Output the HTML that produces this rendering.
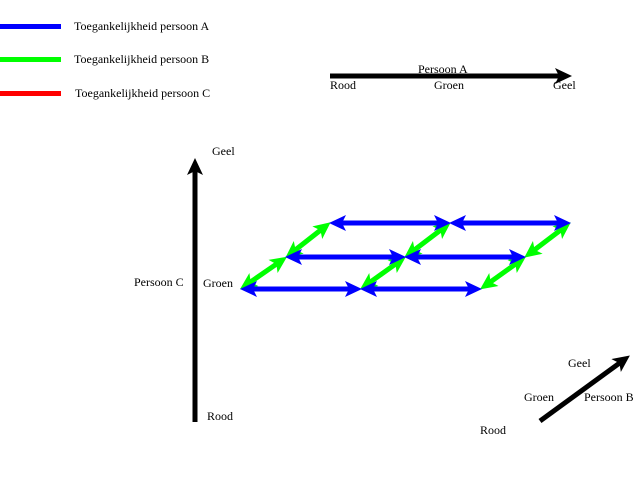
<!DOCTYPE html>
<html><head><meta charset="utf-8"><style>
html,body{margin:0;padding:0;background:#fff;}
svg{display:block;}
text{font-family:"Liberation Serif",serif;font-size:12px;fill:#000;}
</style></head><body>
<svg width="640" height="480" viewBox="0 0 640 480" xmlns="http://www.w3.org/2000/svg">
<defs>
<marker id="bE" markerUnits="userSpaceOnUse" markerWidth="18" markerHeight="16" refX="6" refY="8" orient="auto"><path d="M0,0 L17,8 L0,16 L4,8 Z" fill="#0000ff"/></marker>
<marker id="bS" markerUnits="userSpaceOnUse" markerWidth="18" markerHeight="16" refX="11" refY="8" orient="auto"><path d="M17,0 L0,8 L17,16 L13,8 Z" fill="#0000ff"/></marker>
<marker id="gE" markerUnits="userSpaceOnUse" markerWidth="18" markerHeight="16" refX="6" refY="8" orient="auto"><path d="M0,0 L17,8 L0,16 L4,8 Z" fill="#00ff00"/></marker>
<marker id="gS" markerUnits="userSpaceOnUse" markerWidth="18" markerHeight="16" refX="11" refY="8" orient="auto"><path d="M17,0 L0,8 L17,16 L13,8 Z" fill="#00ff00"/></marker>
<marker id="kE" markerUnits="userSpaceOnUse" markerWidth="18" markerHeight="16" refX="6" refY="8" orient="auto"><path d="M0,0 L17,8 L0,16 L4,8 Z" fill="#000"/></marker>
</defs>
<rect x="0" y="24" width="61" height="5" fill="#0000ff"/>
<rect x="0" y="57" width="61" height="5" fill="#00ff00"/>
<rect x="0" y="91" width="61" height="5" fill="#ff0000"/>
<text x="74" y="30">Toegankelijkheid persoon A</text>
<text x="74" y="63">Toegankelijkheid persoon B</text>
<text x="75" y="97">Toegankelijkheid persoon C</text>
<line x1="330" y1="76" x2="561" y2="76" stroke="#000" stroke-width="5" marker-end="url(#kE)"/>
<text x="418" y="73">Persoon A</text>
<text x="330" y="89">Rood</text>
<text x="434" y="89">Groen</text>
<text x="553" y="89">Geel</text>
<line x1="195" y1="422" x2="195" y2="169" stroke="#000" stroke-width="5" marker-end="url(#kE)"/>
<text x="212" y="155">Geel</text>
<text x="134" y="286">Persoon C</text>
<text x="203" y="287">Groen</text>
<text x="207" y="420">Rood</text>
<line x1="540" y1="421" x2="621" y2="362" stroke="#000" stroke-width="5" marker-end="url(#kE)"/>
<text x="568" y="367">Geel</text>
<text x="524" y="401">Groen</text>
<text x="584" y="401">Persoon B</text>
<text x="480" y="434">Rood</text>
<g stroke="#00ff00" stroke-width="5" marker-start="url(#gS)" marker-end="url(#gE)">
<line x1="249" y1="283" x2="278" y2="263"/>
<line x1="294" y1="251" x2="322" y2="229"/>
<line x1="369" y1="283" x2="397" y2="263"/>
<line x1="413" y1="251" x2="442" y2="229"/>
<line x1="489" y1="283" x2="517" y2="263"/>
<line x1="533" y1="251" x2="562" y2="229"/>
</g>
<g stroke="#0000ff" stroke-width="5" marker-start="url(#bS)" marker-end="url(#bE)">
<line x1="251" y1="289" x2="351" y2="289"/>
<line x1="371" y1="289" x2="471" y2="289"/>
<line x1="296" y1="257" x2="395" y2="257"/>
<line x1="415" y1="257" x2="515" y2="257"/>
<line x1="340" y1="223" x2="440" y2="223"/>
<line x1="460" y1="223" x2="560" y2="223"/>
</g>
</svg>
</body></html>
